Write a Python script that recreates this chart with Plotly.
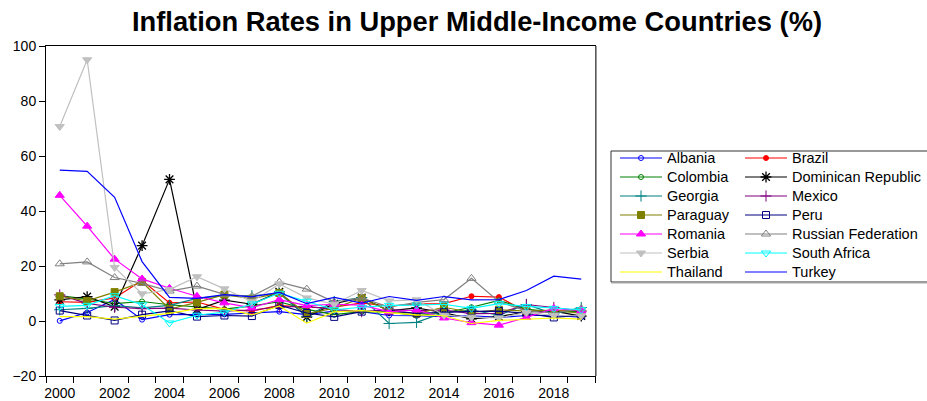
import plotly.graph_objects as go

years = list(range(2000, 2020))

albania = [0.05, 3.1, 7.8, 0.5, 2.3, 2.4, 2.4, 2.9, 3.4, 2.3, 3.6, 3.4, 2.0, 1.9, 1.6, 1.9, 1.3, 2.0, 2.0, 1.4]
brazil = [7.0, 6.8, 8.4, 14.7, 6.6, 6.9, 4.2, 3.6, 5.7, 4.9, 5.0, 6.6, 5.4, 6.2, 6.3, 9.0, 8.7, 3.4, 3.7, 3.7]
colombia = [9.2, 8.0, 6.3, 7.1, 5.9, 5.0, 4.3, 5.5, 7.0, 4.2, 2.3, 3.4, 3.2, 2.0, 2.9, 5.0, 7.5, 4.3, 3.2, 3.5]
dominican = [7.7, 8.9, 5.2, 27.4, 51.5, 4.2, 7.6, 6.1, 10.6, 1.4, 6.3, 8.5, 3.7, 4.8, 3.0, 0.8, 1.6, 3.3, 3.6, 1.8]
georgia = [4.1, 4.6, 5.6, 4.8, 5.7, 8.2, 9.2, 9.2, 10.0, 1.7, 7.1, 8.5, -0.9, -0.5, 3.1, 4.0, 2.1, 6.0, 2.6, 4.9]
mexico = [9.5, 6.4, 5.0, 4.5, 4.7, 4.0, 3.6, 4.0, 5.1, 5.3, 4.2, 3.4, 4.1, 3.8, 4.0, 2.7, 2.8, 6.0, 4.9, 3.6]
paraguay = [9.0, 7.3, 10.5, 14.2, 4.3, 6.8, 9.6, 8.1, 10.2, 2.6, 4.7, 8.3, 3.7, 2.7, 5.0, 3.1, 4.1, 3.6, 4.0, 2.8]
peru = [3.8, 2.0, 0.2, 2.3, 3.7, 1.6, 2.0, 1.8, 5.8, 2.9, 1.5, 3.4, 3.7, 2.8, 3.2, 3.5, 3.6, 2.8, 1.3, 2.1]
romania = [45.7, 34.5, 22.5, 15.3, 11.9, 9.0, 6.6, 4.8, 7.8, 5.6, 6.1, 5.8, 3.3, 4.0, 1.1, -0.6, -1.5, 1.3, 4.6, 3.8]
russia = [20.8, 21.5, 15.8, 13.7, 10.9, 12.7, 9.7, 9.0, 14.1, 11.6, 6.9, 8.4, 5.1, 6.8, 7.8, 15.5, 7.0, 3.7, 2.9, 4.5]
serbia = [70.7, 95.0, 19.5, 9.9, 11.4, 16.1, 11.7, 7.0, 13.5, 8.4, 6.1, 11.1, 7.3, 7.7, 2.1, 1.4, 1.1, 3.1, 2.0, 1.9]
south_africa = [5.3, 5.7, 9.2, 5.9, -0.7, 2.1, 3.2, 6.2, 10.1, 7.2, 4.1, 5.0, 5.7, 5.8, 6.1, 4.6, 6.3, 5.3, 4.6, 4.1]
thailand = [1.6, 1.6, 0.7, 1.8, 2.8, 4.5, 4.6, 2.2, 5.5, -0.8, 3.3, 3.8, 3.0, 2.2, 1.9, -0.9, 0.2, 0.7, 1.1, 0.7]
turkey = [54.9, 54.4, 45.0, 21.6, 8.6, 8.2, 9.6, 8.8, 10.4, 6.3, 8.6, 6.5, 8.9, 7.5, 8.9, 7.7, 7.8, 11.1, 16.3, 15.2]

x_tick_vals = [2000, 2002, 2004, 2006, 2008, 2010, 2012, 2014, 2016, 2018]
y_tick_vals = [-20, 0, 20, 40, 60, 80, 100]

series = [
    ("Albania", albania, "#0000FF", "circle-open", 5),
    ("Brazil", brazil, "#FF0000", "circle", 5),
    ("Colombia", colombia, "#008000", "circle-open", 5),
    ("Dominican Republic", dominican, "#000000", "asterisk-open", 9),
    ("Georgia", georgia, "#008080", "cross-thin-open", 8),
    ("Mexico", mexico, "#800080", "cross-thin-open", 8),
    ("Paraguay", paraguay, "#808000", "square", 7),
    ("Peru", peru, "#000080", "square-open", 7),
    ("Romania", romania, "#FF00FF", "triangle-up", 8),
    ("Russian Federation", russia, "#808080", "triangle-up-open", 8),
    ("Serbia", serbia, "#C0C0C0", "triangle-down", 8),
    ("South Africa", south_africa, "#00FFFF", "triangle-down-open", 8),
    ("Thailand", thailand, "#FFFF00", None, 0),
    ("Turkey", turkey, "#0000FF", None, 0),
]

FONT = "Liberation Sans, Arial, sans-serif"
LEG_TXT = 14.5

fig = go.Figure()
for i, (name, vals, color, sym, size) in enumerate(series):
    legend = "legend" if i % 2 == 0 else "legend2"
    label = f'<span style="font-size:{LEG_TXT}px">{name}</span>'
    if sym is None:
        fig.add_trace(go.Scatter(x=years, y=vals, name=label, mode="lines",
                                 line=dict(color=color, width=1.2), legend=legend))
    else:
        fig.add_trace(go.Scatter(
            x=years, y=vals, name=label, mode="lines+markers",
            line=dict(color=color, width=1.2),
            marker=dict(symbol=sym, size=size, color=color,
                        line=dict(color=color, width=1.3 if "asterisk" in sym else 1)),
            legend=legend))

W, H = 927, 401
L, R, T, B = 46, 595, 46, 376
pw, ph = R - L, B - T

def px_x(p):
    return (p - L) / pw

def px_y(p):
    return (B - p) / ph

legend_common = dict(xanchor="left", yanchor="top", xref="container", yref="container",
                     bgcolor="rgba(0,0,0,0)", borderwidth=0, itemwidth=42,
                     font=dict(family=FONT, size=11.7), tracegroupgap=0)

fig.update_layout(
    width=W, height=H,
    margin=dict(l=L, r=W - R, t=T, b=H - B, autoexpand=False),
    paper_bgcolor="white", plot_bgcolor="white",
    font=dict(family=FONT, size=14, color="black"),
    title=dict(text="<b>Inflation Rates in Upper Middle-Income Countries (%)</b>",
               x=477 / W, xanchor="center", xref="container",
               y=1 - 21 / H, yanchor="middle", yref="container",
               font=dict(family=FONT, size=27.3, color="black")),
    showlegend=True,
    legend=dict(x=615 / W, y=1 - 143.5 / H, **legend_common),
    legend2=dict(x=740 / W, y=1 - 143.5 / H, **legend_common),
    shapes=[
        dict(type="rect", xref="paper", yref="paper",
             x0=px_x(611), x1=px_x(1000), y0=px_y(282), y1=px_y(151),
             line=dict(color="#333333", width=1), fillcolor="rgba(0,0,0,0)"),
        dict(type="line", xref="paper", yref="paper", x0=px_x(611), x1=px_x(1000),
             y0=px_y(283), y1=px_y(283), line=dict(color="#AAAAAA", width=1)),
        dict(type="line", xref="paper", yref="paper", x0=1.002, x1=1.002,
             y0=0, y1=1, line=dict(color="#888888", width=1.5)),
    ],
)

fig.update_xaxes(range=[1999.5, 2019.5], tickmode="array", tickvals=x_tick_vals,
                 ticks="outside", ticklen=0, showgrid=False, zeroline=False,
                 showline=True, linecolor="black", linewidth=1, mirror=True,
                 automargin=False, ticklabelstandoff=4,
                 tickfont=dict(family=FONT, size=14),
                 minor=dict(ticks="outside", tick0=1999.5, dtick=1, ticklen=6,
                            tickcolor="black", showgrid=False))
fig.update_yaxes(range=[-20, 100], tickmode="array", tickvals=y_tick_vals,
                 ticks="outside", ticklen=6, tickcolor="black", showgrid=False,
                 zeroline=False, showline=True, linecolor="black", linewidth=1,
                 mirror=True, automargin=False, tickfont=dict(family=FONT, size=14))

fig.write_html("out.html", config={"displayModeBar": False},
               post_script="document.body.style.margin='0';")
